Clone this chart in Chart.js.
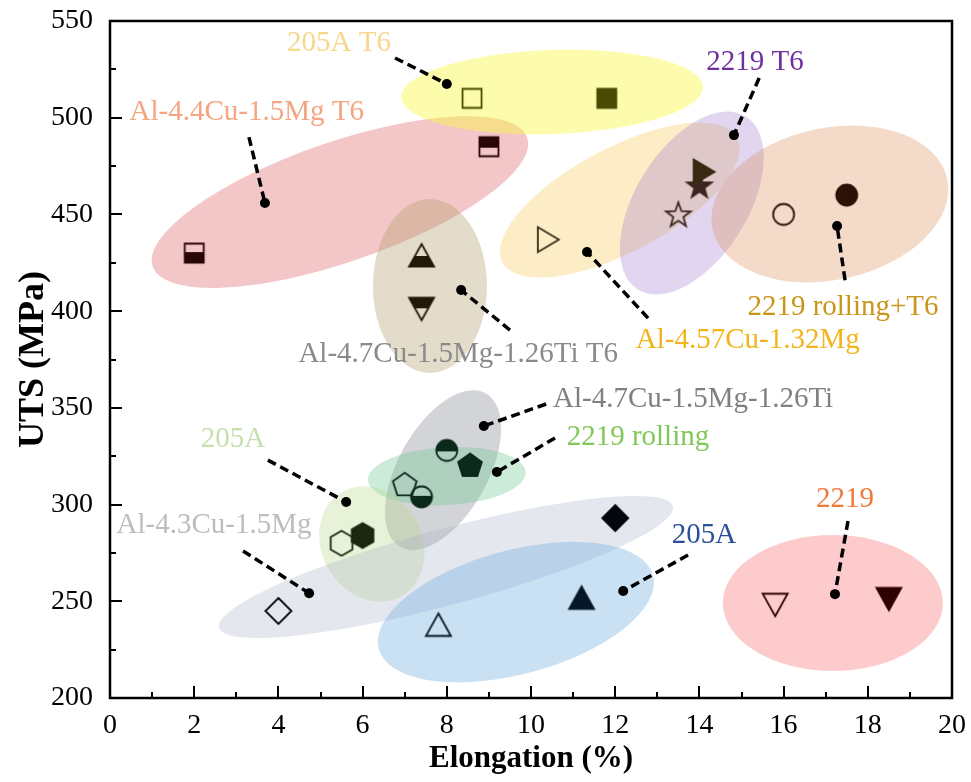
<!DOCTYPE html>
<html><head><meta charset="utf-8">
<script src="https://cdn.jsdelivr.net/npm/chart.js@4.4.1/dist/chart.umd.min.js"></script>
<style>html,body{margin:0;padding:0;background:#fff;}#wrap{width:971px;height:782px;}</style>
</head><body><div id="wrap"><canvas id="c" width="971" height="782"></canvas></div>
<script>
// ---------- data ----------
const seriesNames = ['Al-4.4Cu-1.5Mg T6','205A T6','Al-4.7Cu-1.5Mg-1.26Ti T6','Al-4.57Cu-1.32Mg','2219 T6','2219 rolling+T6','Al-4.7Cu-1.5Mg-1.26Ti','2219 rolling','205A','Al-4.3Cu-1.5Mg','205A','2219'];
const elongation = [[2.0,9.0],[8.6,11.8],[7.4,7.4],[10.4,14.1],[13.5,14.0],[16.0,17.5],[8.0,7.4],[7.0,8.55],[5.5,6.0],[4.0,12.0],[7.8,11.2],[15.8,18.5]];
const uts = [[430,485],[510,510],[428,402],[437,472],[450,465],[450,460],[328,304],[310,320],[280,284],[245,293],[237,251],[249,252]];
const xTicks = [0,2,4,6,8,10,12,14,16,18,20];
const yTicks = [200,250,300,350,400,450,500,550];

// ---------- annotations (label + leader line, data coords) ----------
const labelPos = [[3.25,503],[5.44,538.6],[8.27,377.8],[15.15,385],[15.32,528.8],[17.41,402.1],[13.85,354.6],[12.54,334.9],[2.92,333.9],[2.47,289.4],[14.11,284.2],[17.46,302.8]];
const leaderDot = [[3.68,455.9],[8.0,517.4],[8.34,410.9],[11.33,430.6],[14.82,491],[17.27,444],[8.88,340.6],[9.19,316.8],[5.61,301.3],[4.73,254.2],[12.19,255.3],[17.22,253.7]];
const leaderEnd = [[3.30,490],[6.77,530.9],[9.5,390.2],[12.78,396.4],[15.42,520.5],[17.46,416],[10.36,352],[10.57,334.4],[3.75,323],[3.16,276],[13.73,273.9],[17.53,291.5]];
const ellipseCenter = [[5.46,456.4],[10.5,513.3],[7.6,413],[12.11,457.4],[13.82,455.9],[17.1,455.4],[7.91,317.8],[8.0,314.7],[6.22,279.6],[7.98,267.7],[9.64,244.4],[17.17,249.1]];

// ---------- styles ----------
const ellipseShape = [[198,60,-19],[151,42,-2],[87,57,90],[133,52,-28],[102,56,-58],[120,76,-12],[88,45,-61],[79,29,-3],[60,50,60],[235,38,-15],[142,62,-15],[110,68,0]];
const ellipseColors = ['rgba(222,95,95,0.35)','rgba(250,248,70,0.45)','rgba(175,155,105,0.35)','rgba(250,200,80,0.32)','rgba(155,115,205,0.3)','rgba(220,150,100,0.35)','rgba(120,125,135,0.33)','rgba(110,200,145,0.35)','rgba(185,215,135,0.32)','rgba(170,175,200,0.3)','rgba(120,180,225,0.4)','rgba(250,140,140,0.45)'];
const labelColors = ['#f4a582','#f8d78a','#8a8a8a','#f2b51c','#7030a0','#c9961a','#808080','#82c75a','#c5dfae','#bdbdbd','#2a4f9a','#ee7a3a'];
const markerShapes = [['square:bottom','square:top'],['square:open','square:fill'],['triUp:bottom','triDown:top'],['triRight:open','triRight:fill'],['star:open','star:fill'],['circle:open','circle:fill'],['circle:top','circle:bottom'],['pent:open','pent:fill'],['hex:open','hex:fill'],['diamond:open','diamond:fill'],['triUp:open','triUp:fill'],['triDown:open','triDown:fill']];
const markerColors = ['#2b0606','#4a4a02','#22190a','#3a2a14','#3e2620','#2a1206','#0b2a1c','#0b2a1c','#1c2812','#06060e','#061828','#2e0202'];

function shapePath(shape){
  const p = new Path2D();
  const poly = (pts)=>{pts.forEach((q,i)=> i? p.lineTo(q[0],q[1]) : p.moveTo(q[0],q[1])); p.closePath();};
  const reg = (n,r,rot)=>{const pts=[];for(let i=0;i<n;i++){const a=rot+i*2*Math.PI/n;pts.push([r*Math.cos(a),r*Math.sin(a)]);}poly(pts);};
  switch(shape){
    case 'square': p.rect(-9.5,-9.5,19,19); break;
    case 'circle': p.arc(0,0,10.5,0,Math.PI*2); break;
    case 'triUp': poly([[0,-13],[12.5,9.5],[-12.5,9.5]]); break;
    case 'triDown': poly([[0,13],[12.5,-9.5],[-12.5,-9.5]]); break;
    case 'triRight': poly([[11,0],[-10,-12.5],[-10,12.5]]); break;
    case 'diamond': poly([[0,-13],[13,0],[0,13],[-13,0]]); break;
    case 'pent': reg(5,12.5,-Math.PI/2); break;
    case 'hex': reg(6,12.5,-Math.PI/2); break;
    case 'star': { const pts=[]; for(let i=0;i<10;i++){const a=-Math.PI/2+i*Math.PI/5; const r=i%2?5.3:13; pts.push([r*Math.cos(a),r*Math.sin(a)+1]);} poly(pts); break; }
  }
  return p;
}
function makeMarker(spec,color){
  const [shape,mode]=spec.split(':');
  const S=36, cv=document.createElement('canvas'); cv.width=S; cv.height=S;
  const g=cv.getContext('2d'); g.translate(S/2,S/2);
  const p=shapePath(shape);
  g.lineWidth=1.8; g.strokeStyle=color; g.fillStyle=color; g.lineJoin='miter';
  if(mode==='fill'){ g.fill(p); g.stroke(p); }
  else if(mode==='open'){ g.stroke(p); }
  else {
    g.save(); g.clip(p);
    if(mode==='top') g.fillRect(-S/2,-S/2,S,S/2); else g.fillRect(-S/2,0,S,S/2);
    g.beginPath(); g.moveTo(-S/2,0); g.lineTo(S/2,0); g.stroke();
    g.restore(); g.stroke(p);
  }
  return cv;
}

// ---------- datasets ----------
const datasets = [];
seriesNames.forEach((name,i)=>{
  datasets.push({
    type:'line', label:name+' leader', showLine:true,
    data:[{x:leaderEnd[i][0],y:leaderEnd[i][1]},{x:leaderDot[i][0],y:leaderDot[i][1]}],
    borderColor:'#000', borderWidth:3.5, borderDash:[9,5], fill:false,
    pointRadius:[0,5], pointBackgroundColor:'#000', pointBorderWidth:0, order:2
  });
});
seriesNames.forEach((name,i)=>{
  datasets.push({
    type:'scatter', label:name,
    data: elongation[i].map((x,j)=>({x:x,y:uts[i][j]})),
    pointStyle: markerShapes[i].map(s=>makeMarker(s,markerColors[i])),
    pointRadius:12, order:1
  });
});

const decor = {
  id:'decor',
  beforeDatasetsDraw(chart){
    const {ctx, chartArea:a, scales:{x,y}} = chart;
    ctx.save();
    ctx.beginPath(); ctx.rect(a.left,a.top,a.right-a.left,a.bottom-a.top); ctx.clip();
    ellipseCenter.forEach((c,i)=>{
      const [rx,ry,ang]=ellipseShape[i];
      ctx.beginPath();
      ctx.ellipse(x.getPixelForValue(c[0]), y.getPixelForValue(c[1]), rx, ry, ang*Math.PI/180, 0, Math.PI*2);
      ctx.fillStyle=ellipseColors[i]; ctx.fill();
    });
    ctx.restore();
  },
  afterDatasetsDraw(chart){
    const {ctx, chartArea:a, scales:{x,y}} = chart;
    ctx.save();
    ctx.font='29px "Liberation Serif", "Times New Roman", serif';
    ctx.textAlign='center'; ctx.textBaseline='middle';
    labelPos.forEach((p,i)=>{
      ctx.fillStyle=labelColors[i];
      ctx.fillText(seriesNames[i], x.getPixelForValue(p[0]), y.getPixelForValue(p[1]));
    });
    ctx.strokeStyle='#000'; ctx.lineWidth=2;
    for(let v=200; v<=550; v+=25){
      const py=Math.round(y.getPixelForValue(v));
      const len = v%50===0 ? 12 : 6;
      ctx.beginPath(); ctx.moveTo(a.left,py); ctx.lineTo(a.left+len,py); ctx.stroke();
    }
    for(let v=0; v<=20; v+=1){
      const px=Math.round(x.getPixelForValue(v));
      const len = v%2===0 ? 12 : 6;
      ctx.beginPath(); ctx.moveTo(px,a.bottom); ctx.lineTo(px,a.bottom-len); ctx.stroke();
    }
    ctx.lineWidth=2.5;
    ctx.strokeRect(a.left,a.top,a.right-a.left,a.bottom-a.top);
    ctx.restore();
  }
};

const zeroPad = (s)=>{ s.paddingTop=0; s.paddingBottom=0; s.paddingLeft=0; s.paddingRight=0; };

new Chart(document.getElementById('c'),{
  data:{datasets},
  plugins:[decor],
  options:{
    responsive:false, maintainAspectRatio:false, animation:false,
    layout:{padding:{top:21,right:19,left:0,bottom:0}},
    plugins:{legend:{display:false},tooltip:{enabled:false}},
    scales:{
      x:{type:'linear', min:0, max:20, position:'bottom',
        afterFit:(s)=>{s.height=84; zeroPad(s);},
        afterBuildTicks:(s)=>{s.ticks=xTicks.map(v=>({value:v}));},
        grid:{display:false, drawTicks:false}, border:{display:false},
        ticks:{autoSkip:false, padding:11, color:'#000', font:{family:'"Liberation Serif", serif', size:28}},
        title:{display:true, text:'Elongation (%)', color:'#000', padding:{top:0,bottom:4}, font:{family:'"Liberation Serif", serif', size:31, weight:'bold'}}
      },
      y:{type:'linear', min:200, max:550, position:'left',
        afterFit:(s)=>{s.width=110; zeroPad(s);},
        afterBuildTicks:(s)=>{s.ticks=yTicks.map(v=>({value:v}));},
        grid:{display:false, drawTicks:false}, border:{display:false},
        ticks:{autoSkip:false, padding:17, color:'#000', font:{family:'"Liberation Serif", serif', size:28}},
        title:{display:true, text:'UTS (MPa)', color:'#000', padding:{top:12,bottom:0}, font:{family:'"Liberation Serif", serif', size:36, weight:'bold'}}
      }
    }
  }
});
</script></body></html>
